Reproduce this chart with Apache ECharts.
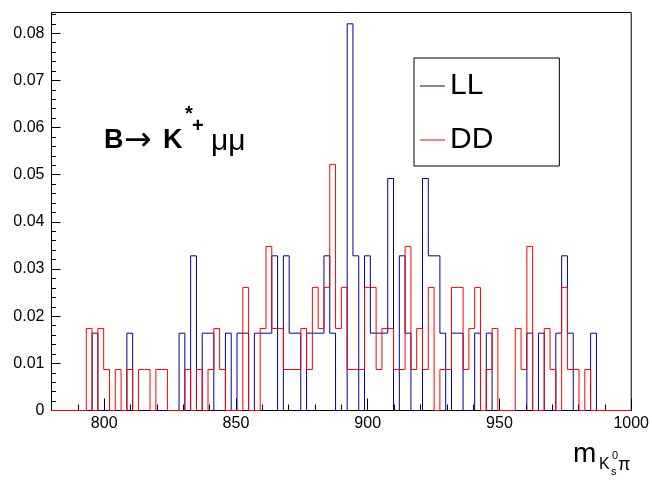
<!DOCTYPE html>
<html>
<head>
<meta charset="utf-8">
<script src="https://cdn.jsdelivr.net/npm/echarts@6/dist/echarts.min.js"></script>
<style>
html,body{margin:0;padding:0;background:#fff;}
#chart{width:652px;height:484px;}
</style>
</head>
<body>
<div id="chart"></div>
<script>
// Histogram binning (100 bins of 2.2 from 780 to 1000)
const binStart = 780;
const binWidth = 2.2;

// LL histogram (bin contents)
const llValues = [
  0,0,0,0,0,0,0,0.0164,0,0,
  0,0,0,0.0164,0,0,0,0,0,0,
  0,0,0.0164,0,0.0328,0,0.0164,0.0164,0,0,
  0.0164,0,0.0164,0.0164,0,0.0164,0.0164,0.0164,0.0328,0,
  0.0328,0.0164,0.0164,0,0.0164,0.0164,0.0164,0.0328,0.0164,0,
  0,0.082,0.0328,0,0.0328,0.0164,0.0164,0.0164,0.0492,0,
  0.0328,0.0164,0,0,0.0492,0.0328,0.0328,0.0164,0,0.0164,
  0.0164,0,0,0.0164,0,0.0164,0,0,0,0,
  0,0,0.0164,0,0.0164,0,0,0.0164,0.0328,0.0164,
  0,0,0,0.0164,0,0,0,0,0,0
];

// DD histogram (bin contents)
const ddValues = [
  0,0,0,0,0,0,0.0174,0,0.0174,0.0087,
  0,0.0087,0,0.0087,0,0.0087,0.0087,0,0.0087,0.0087,
  0,0,0,0.0087,0,0.0087,0,0.0087,0.0174,0.0087,
  0,0,0,0.0261,0,0,0.0174,0.0348,0.0174,0.0174,
  0.0087,0.0087,0.0087,0.0174,0.0087,0.0261,0.0174,0.0261,0.0522,0.0174,
  0.0261,0.0087,0.0087,0.0087,0.0261,0.0261,0.0087,0.0174,0.0174,0.0087,
  0.0087,0.0348,0.0087,0.0174,0.0087,0.0261,0,0.0087,0.0087,0.0261,
  0.0261,0.0087,0.0174,0.0261,0,0.0087,0.0174,0,0,0,
  0.0174,0.0087,0.0348,0,0,0.0174,0.0087,0,0.0261,0.0087,
  0.0087,0,0.0087,0,0,0,0,0,0,0
];

const seriesNames = ['LL', 'DD'];
const seriesColors = ['#000099', '#ff0000'];

// Axis ticks / labels
const xMin = 780, xMax = 1000;
const xMajorTicks = [800, 850, 900, 950, 1000];
const xMinorInterval = 10;
const yMin = 0, yMax = 0.0844;
const yMajorTicks = [0, 0.01, 0.02, 0.03, 0.04, 0.05, 0.06, 0.07, 0.08];
const yMinorInterval = 0.002;

function histPoints(values) {
  const pts = [];
  for (let k = 0; k < values.length; k++) {
    pts.push([+(binStart + binWidth * k).toFixed(4), values[k]]);
  }
  pts.push([+(binStart + binWidth * values.length).toFixed(4), values[values.length - 1]]);
  return pts;
}

const FONT = '"Liberation Sans", Arial, Helvetica, sans-serif';
const chart = echarts.init(document.getElementById('chart'), null, {renderer: 'canvas'});

const option = {
  animation: false,
  backgroundColor: '#ffffff',
  grid: {
    left: 51.5, top: 12.5, width: 580, height: 398,
    show: true, borderColor: '#000', borderWidth: 1, backgroundColor: 'transparent',
    containLabel: false
  },
  legend: {
    orient: 'vertical', left: 414, top: 58,
    padding: [10, 66, 8, 6], itemGap: 18, itemWidth: 25, itemHeight: 1,
    backgroundColor: '#fff', borderColor: '#000', borderWidth: 1,
    textStyle: {fontSize: 30, fontFamily: FONT, color: '#000', lineHeight: 36},
    data: [{name: 'LL', icon: 'rect'}, {name: 'DD', icon: 'rect'}],
    selectedMode: false
  },
  xAxis: [
    {
      type: 'value', min: xMin, max: xMax, position: 'bottom',
      axisLine: {show: true, lineStyle: {color: '#000', width: 1}},
      axisTick: {show: true, inside: true, length: 12, customValues: xMajorTicks, lineStyle: {color: '#000'}},
      axisLabel: {customValues: xMajorTicks, fontSize: 16, fontFamily: FONT, color: '#000', margin: 5,
        formatter: function (v) { return String(v); }},
      splitLine: {show: false}
    },
    {
      type: 'value', min: xMin, max: xMax, interval: xMinorInterval, position: 'bottom',
      axisLine: {show: false},
      axisTick: {show: true, inside: true, length: 6, lineStyle: {color: '#000'}},
      axisLabel: {show: false},
      splitLine: {show: false}
    }
  ],
  yAxis: [
    {
      type: 'value', min: yMin, max: yMax, position: 'left',
      axisLine: {show: true, lineStyle: {color: '#000', width: 1}},
      axisTick: {show: true, inside: true, length: 9, customValues: yMajorTicks, lineStyle: {color: '#000'}},
      axisLabel: {customValues: yMajorTicks, fontSize: 16, fontFamily: FONT, color: '#000', margin: 7,
        formatter: function (v) { return v === 0 ? '0' : v.toFixed(2); }},
      splitLine: {show: false}
    },
    {
      type: 'value', min: yMin, max: yMax, interval: yMinorInterval, position: 'left',
      axisLine: {show: false},
      axisTick: {show: true, inside: true, length: 4.5, lineStyle: {color: '#000'}},
      axisLabel: {show: false},
      splitLine: {show: false}
    }
  ],
  series: [
    {
      name: seriesNames[0], type: 'line', step: 'end', symbol: 'none', clip: false,
      xAxisIndex: 0, yAxisIndex: 0,
      data: histPoints(llValues),
      lineStyle: {color: seriesColors[0], width: 1},
      itemStyle: {color: seriesColors[0]},
      z: 3
    },
    {
      name: seriesNames[1], type: 'line', step: 'end', symbol: 'none', clip: false,
      xAxisIndex: 0, yAxisIndex: 0,
      data: histPoints(ddValues),
      lineStyle: {color: seriesColors[1], width: 1},
      itemStyle: {color: seriesColors[1]},
      z: 4
    }
  ],
  graphic: [
    // B -> K*+ mu mu
    {type: 'text', left: 104, top: 127, style: {text: 'B', font: 'bold 27px ' + FONT, fill: '#000'}},
    {type: 'text', left: 124, top: 125, style: {text: '\u2192', font: '33px "DejaVu Sans", sans-serif', fill: '#000'}},
    {type: 'text', left: 163, top: 127, style: {text: 'K', font: 'bold 27px ' + FONT, fill: '#000'}},
    {type: 'text', left: 185, top: 104, style: {text: '*', font: 'bold 20px ' + FONT, fill: '#000'}},
    {type: 'text', left: 192, top: 116, style: {text: '+', font: 'bold 20px ' + FONT, fill: '#000'}},
    {type: 'text', left: 211, top: 127, style: {text: '\u03bc\u03bc', font: '30px ' + FONT, fill: '#000'}},
    // x axis title m_{K_s^0 pi}
    {type: 'text', left: 573, top: 440, style: {text: 'm', font: '28px ' + FONT, fill: '#000'}},
    {type: 'text', left: 599, top: 457, style: {text: 'K', font: '16px ' + FONT, fill: '#000'}},
    {type: 'text', left: 611, top: 466, style: {text: 's', font: '11px ' + FONT, fill: '#000'}},
    {type: 'text', left: 612, top: 450, style: {text: '0', font: '11px ' + FONT, fill: '#000'}},
    {type: 'text', left: 618, top: 456, style: {text: '\u03c0', font: '18px ' + FONT, fill: '#000'}}
  ]
};
chart.setOption(option);
</script>
</body>
</html>
